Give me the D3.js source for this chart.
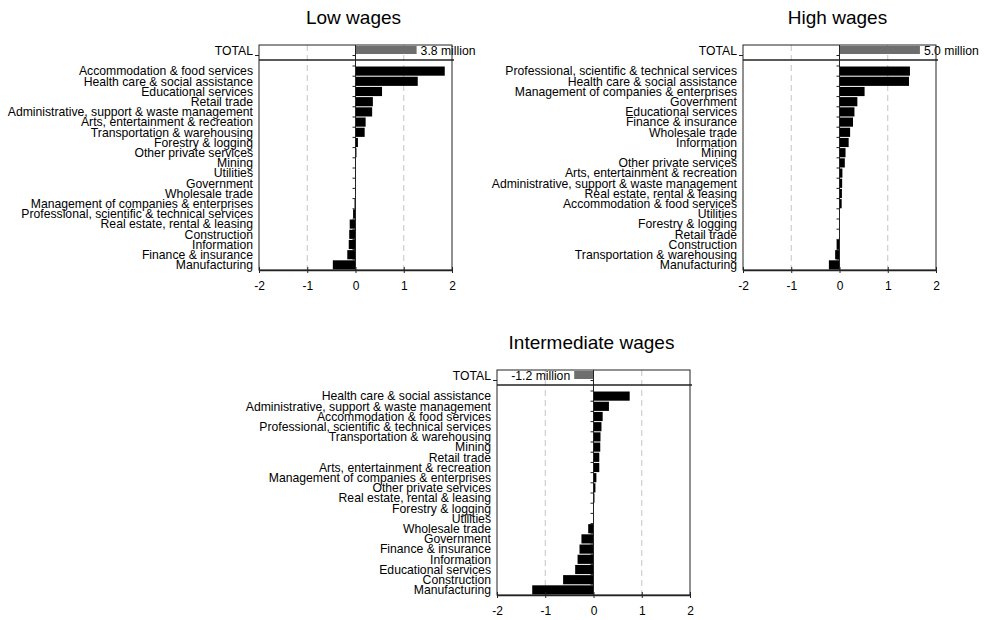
<!DOCTYPE html>
<html>
<head>
<meta charset="utf-8">
<style>
  body { margin: 0; background: #fff; }
  text { font-family: "Liberation Sans", Arial, sans-serif; fill: #000; }
  .title { font-size: 19px; font-weight: normal; }
  .cat, .tot { font-size: 12.2px; }
  .tick text { font-size: 12px; }
</style>
<script src="https://d3js.org/d3.v7.min.js"></script>
<title>Job change by industry and wage group</title>
</head>
<body>
<svg width="998" height="620"></svg>
<script>
// data: change in jobs (millions), total bar is drawn at 1/3 scale
var lowCategories = ["Accommodation & food services", "Health care & social assistance", "Educational services",
  "Retail trade", "Administrative, support & waste management", "Arts, entertainment & recreation",
  "Transportation & warehousing", "Forestry & logging", "Other private services", "Mining", "Utilities",
  "Government", "Wholesale trade", "Management of companies & enterprises",
  "Professional, scientific & technical services", "Real estate, rental & leasing", "Construction",
  "Information", "Finance & insurance", "Manufacturing"];
var lowValues = [1.85, 1.29, 0.55, 0.36, 0.345, 0.21, 0.19, 0.05, 0.02, 0.008, 0.003,
  -0.003, -0.01, -0.02, -0.05, -0.12, -0.13, -0.14, -0.17, -0.47];

var highCategories = ["Professional, scientific & technical services", "Health care & social assistance",
  "Management of companies & enterprises", "Government", "Educational services", "Finance & insurance",
  "Wholesale trade", "Information", "Mining", "Other private services", "Arts, entertainment & recreation",
  "Administrative, support & waste management", "Real estate, rental & leasing", "Accommodation & food services",
  "Utilities", "Forestry & logging", "Retail trade", "Construction", "Transportation & warehousing", "Manufacturing"];
var highValues = [1.46, 1.44, 0.52, 0.37, 0.31, 0.28, 0.22, 0.19, 0.125, 0.11, 0.06,
  0.055, 0.05, 0.045, 0.005, -0.005, -0.01, -0.06, -0.09, -0.22];

var midCategories = ["Health care & social assistance", "Administrative, support & waste management",
  "Accommodation & food services", "Professional, scientific & technical services", "Transportation & warehousing",
  "Mining", "Retail trade", "Arts, entertainment & recreation", "Management of companies & enterprises",
  "Other private services", "Real estate, rental & leasing", "Forestry & logging", "Utilities", "Wholesale trade",
  "Government", "Finance & insurance", "Information", "Educational services", "Construction", "Manufacturing"];
var midValues = [0.75, 0.32, 0.19, 0.165, 0.145, 0.14, 0.12, 0.12, 0.06, 0.04, 0.02, 0.005, 0.002,
  -0.11, -0.25, -0.29, -0.33, -0.38, -0.63, -1.27];

var totals = [3.8, 5.0, -1.2];
var tickValues = [-2, -1, 0, 1, 2];

var svg = d3.select("svg");
var W = 193, boxH = 15, H = 225;

var panels = [
  { title: "Low wages", cats: lowCategories, vals: lowValues, total: totals[0], left: 259, top: 45 },
  { title: "High wages", cats: highCategories, vals: highValues, total: totals[1], left: 743, top: 45 },
  { title: "Intermediate wages", cats: midCategories, vals: midValues, total: totals[2], left: 497, top: 370 }
];

// plain hyphen instead of d3's unicode minus
function hy(s) { return String(s).replace("\u2212", "-"); }

panels.forEach(function (p) {
  var g = svg.append("g").attr("transform", "translate(" + p.left + "," + p.top + ")");
  var x = d3.scaleLinear().domain([-2, 2]).range([0, W]);
  var tx = d3.scaleLinear().domain([-6, 6]).range([0, W]);
  var y = d3.scaleBand().domain(p.cats).range([21, H]).paddingInner(0.1).paddingOuter(0.05);

  g.append("text").attr("class", "title")
    .attr("x", W / 2 - 2).attr("y", -21).attr("text-anchor", "middle").text(p.title);

  // dashed grid
  g.selectAll(".grid").data([-1, 1]).enter().append("line")
    .attr("x1", function (d) { return x(d); }).attr("x2", function (d) { return x(d); })
    .attr("y1", 0).attr("y2", H)
    .attr("stroke", "#c4c4c4").attr("stroke-dasharray", "6,4");

  // total row
  g.append("rect")
    .attr("x", Math.min(tx(0), tx(p.total)))
    .attr("width", Math.abs(tx(p.total) - tx(0)))
    .attr("y", 1).attr("height", 8)
    .attr("fill", "#6e6e6e");
  g.append("text").attr("class", "tot")
    .attr("x", p.total >= 0 ? tx(p.total) + 4 : tx(p.total) - 4)
    .attr("y", 10)
    .attr("text-anchor", p.total >= 0 ? "start" : "end")
    .text(hy(d3.format(".1f")(p.total)) + " million");
  g.append("text").attr("class", "cat")
    .attr("x", -6).attr("y", 10).attr("text-anchor", "end").text("TOTAL");
  g.append("line").attr("x1", -4).attr("x2", 0).attr("y1", 10.5).attr("y2", 10.5).attr("stroke", "#222");

  // bars
  g.selectAll(".bar").data(p.vals).enter().append("rect")
    .attr("x", function (d) { return x(Math.min(0, d)); })
    .attr("width", function (d) { return Math.abs(x(d) - x(0)); })
    .attr("y", function (d, i) { return y(p.cats[i]); })
    .attr("height", y.bandwidth())
    .attr("fill", "#000");

  // category labels
  g.selectAll(".cat-l").data(p.cats).enter().append("text").attr("class", "cat")
    .attr("x", -6)
    .attr("y", function (d) { return y(d) + y.bandwidth() / 2; })
    .attr("dy", "0.36em")
    .attr("text-anchor", "end")
    .text(function (d) { return d; });

  // zero line with ticks at band edges
  g.append("line").attr("x1", x(0)).attr("x2", x(0)).attr("y1", 0).attr("y2", H)
    .attr("stroke", "#222");
  var off = (y.step() - y.bandwidth()) / 2;
  var edges = p.cats.map(function (d) { return y(d) - off; }).concat([10.5]);
  g.selectAll(".ztick").data(edges).enter().append("line")
    .attr("x1", x(0) - 3).attr("x2", x(0))
    .attr("y1", function (d) { return d; }).attr("y2", function (d) { return d; })
    .attr("stroke", "#222");

  // frame
  g.append("rect").attr("x", 0).attr("y", 0).attr("width", W).attr("height", H)
    .attr("fill", "none").attr("stroke", "#222");
  g.append("line").attr("x1", 0).attr("x2", W + 2).attr("y1", boxH).attr("y2", boxH)
    .attr("stroke", "#222").attr("stroke-width", 1.6);

  // bottom axis
  var ax = g.append("g").attr("transform", "translate(0," + H + ")")
    .call(d3.axisBottom(x).tickValues(tickValues).tickSizeInner(3).tickSizeOuter(0).tickPadding(8)
      .tickFormat(function (d) { return hy(d3.format("d")(d)); }));
  ax.select(".domain").attr("stroke", "#222").attr("stroke-width", 1.6);
  ax.selectAll(".tick line").attr("stroke", "#222").attr("y1", -3);
});
</script>
</body>
</html>
